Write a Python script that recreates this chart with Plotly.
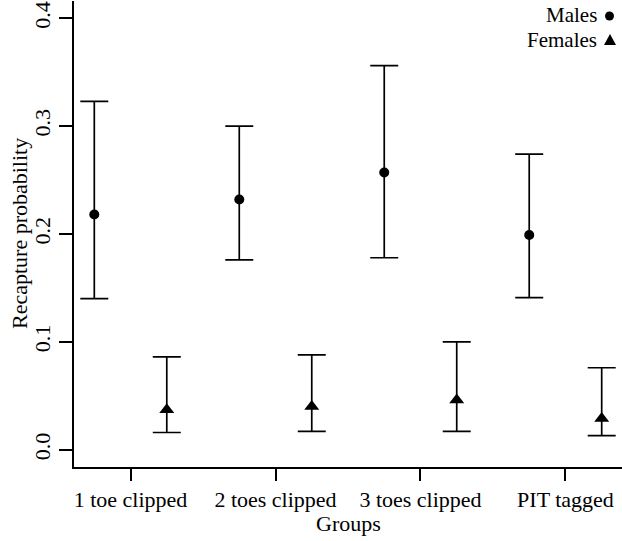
import plotly.graph_objects as go

groups = ["1 toe clipped", "2 toes clipped", "3 toes clipped", "PIT tagged"]
male_est = [0.218, 0.232, 0.257, 0.199]
male_upper = [0.323, 0.300, 0.356, 0.274]
male_lower = [0.140, 0.176, 0.178, 0.141]
female_est = [0.037, 0.040, 0.046, 0.029]
female_upper = [0.086, 0.088, 0.100, 0.076]
female_lower = [0.016, 0.017, 0.017, 0.013]
y_ticks = [0.0, 0.1, 0.2, 0.3, 0.4]

pos = [1, 2, 3, 4]
male_x = [p - 0.25 for p in pos]
female_x = [p + 0.25 for p in pos]

font = "Liberation Serif, Times New Roman, serif"
FS = 22

W, H = 622, 541
ML, MR, MT, MB = 74, 0, 1, 74
PW, PH = W - ML - MR, H - MT - MB


def px_x(x):
    return (x - ML) / PW


def px_y(y):
    return (H - MB - y) / PH


fig = go.Figure()
fig.add_trace(go.Scatter(
    x=male_x, y=male_est, mode="markers", name="Males",
    marker=dict(symbol="circle", size=10, color="black"),
    error_y=dict(type="data", symmetric=False,
                 array=[u - e for u, e in zip(male_upper, male_est)],
                 arrayminus=[e - l for e, l in zip(male_est, male_lower)],
                 color="black", thickness=1.7, width=14),
))
fig.add_trace(go.Scatter(
    x=female_x, y=female_est, mode="markers", name="Females",
    marker=dict(symbol="triangle-up", size=13, color="black"),
    error_y=dict(type="data", symmetric=False,
                 array=[u - e for u, e in zip(female_upper, female_est)],
                 arrayminus=[e - l for e, l in zip(female_est, female_lower)],
                 color="black", thickness=1.7, width=14),
))

fig.update_layout(
    width=W, height=H,
    margin=dict(l=ML, r=MR, t=MT, b=MB, autoexpand=False),
    plot_bgcolor="white", paper_bgcolor="white",
    showlegend=False,
    font=dict(family=font, size=FS, color="black"),
    xaxis=dict(range=[0.61, 4.39], tickvals=pos, ticktext=groups,
               showline=True, linecolor="black", linewidth=1.7,
               ticks="outside", ticklen=12, tickwidth=1.7, tickcolor="black",
               showgrid=False, zeroline=False, automargin=False,
               tickfont=dict(family=font, size=FS)),
    yaxis=dict(range=[-0.016, 0.416], tickvals=y_ticks, tickformat=".1f",
               showline=True, linecolor="black", linewidth=1.7,
               ticks="outside", ticklen=13, tickwidth=1.7, tickcolor="black",
               showgrid=False, zeroline=False, tickangle=-90, automargin=False,
               tickfont=dict(family=font, size=FS)),
    annotations=[
        dict(text="Recapture probability", xref="paper", yref="paper",
             x=px_x(19), y=0.5, textangle=-90, showarrow=False,
             xanchor="center", yanchor="middle",
             font=dict(family=font, size=FS)),
        dict(text="Groups", xref="paper", yref="paper",
             x=0.5, y=px_y(523), showarrow=False,
             xanchor="center", yanchor="middle",
             font=dict(family=font, size=FS)),
        dict(text="Males", xref="paper", yref="paper",
             x=px_x(598), y=px_y(15), xanchor="right", yanchor="middle",
             showarrow=False, borderpad=0, font=dict(family=font, size=FS - 1)),
        dict(text="Females", xref="paper", yref="paper",
             x=px_x(598), y=px_y(40), xanchor="right", yanchor="middle",
             showarrow=False, borderpad=0, font=dict(family=font, size=FS - 1)),
    ],
    shapes=[
        dict(type="circle", xref="paper", yref="paper",
             x0=px_x(605), x1=px_x(614), y0=px_y(20.5), y1=px_y(11.5),
             fillcolor="black", line=dict(width=0)),
        dict(type="path", xref="paper", yref="paper",
             path="M {a},{b} L {c},{b} L {d},{e} Z".format(
                 a=px_x(604), c=px_x(616), d=px_x(610),
                 b=px_y(45), e=px_y(34)),
             fillcolor="black", line=dict(width=0)),
    ],
)

fig.write_html("out.html", config={"displayModeBar": False},
               post_script="document.body.style.margin='0';")
